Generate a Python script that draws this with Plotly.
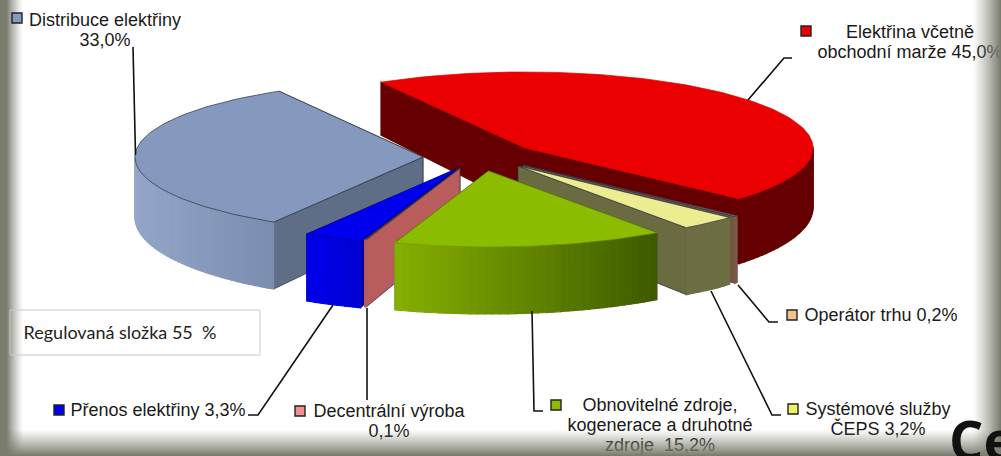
import math
import plotly.graph_objects as go

# --- data ---
categories = ["Elektřina včetně obchodní marže", "Operátor trhu", "Systémové služby ČEPS",
              "Obnovitelné zdroje, kogenerace a druhotné zdroje", "Decentrální výroba",
              "Přenos elektřiny", "Distribuce elektřiny"]
values = [45.0, 0.2, 3.2, 15.2, 0.1, 3.3, 33.0]
label_texts = ["Elektřina včetně<br>obchodní marže 45,0%", "Operátor trhu 0,2%",
               "Systémové služby<br>ČEPS 3,2%",
               "Obnovitelné zdroje,<br>kogenerace a druhotné<br>zdroje  15,2%",
               "Decentrální výroba<br>0,1%", "Přenos elektřiny 3,3%",
               "Distribuce elektřiny<br>33,0%"]
note_text = "Regulovaná složka 55\u00a0\u00a0%"
cut_text = "Ce"

# --- styles and layout (pixel-scale axes) ---
W, H = 1001, 456
RX, RY = 288, 76
START = 120.0
apex = [(525, 148), (523, 165), (518, 166), (488.5, 171), (460, 168), (456, 169), (423, 157)]
top_col = ["#ea0000", "#a08070", "#ecec90", "#8cbc00", "#bf6464", "#0000ee", "#8499bd"]
edge_col = ["#660000", "#75553f", "#6b6b42", "#7d9f00", "#b95c5c", "#0000a8", "#5f6d87"]
wall_a = ["#660000", "#7b5a4a", "#6e6e44", "#86b000", "#b95c5c", "#0000ea", "#93a6c9"]
wall_b = ["#660000", "#7b5a4a", "#6e6e44", "#3e5a00", "#b95c5c", "#0000d4", "#7a8dae"]
outline_col = ["#d80000", "#2a3040", "#2a3040", "#6f9400", "#2a3040", "#00009a", "#2a3040"]
paint_order = [0, 6, 1, 2, 5, 4, 3]
marker_col = ["#ea0000", "#f5c090", "#f0f060", "#8cbc00", "#f09090", "#0000ee", "#8499bd"]
marker_xy = [(806, 31), (792, 315), (793, 409), (556, 405), (300, 411), (59, 410), (17, 18)]
label_xy = [(910, 33), (881, 316), (878, 410), (660, 406), (389, 412), (158, 411), (105, 21)]
LINE_STEP = 20
leaders = [[(792, 58), (784, 58), (748, 100)],
           [(738, 285), (769, 322), (778, 322)],
           [(711, 291), (772, 415), (781, 415)],
           [(532, 311), (534, 411), (543, 411)],
           [(367, 308), (367, 400)],
           [(333, 305), (258, 415), (248, 415)],
           [(133, 47), (135.5, 155)]]


def depth(y):
    return 53 + 14 * min(1, max(0, (y - 83) / 137))


def pt(c, t):
    a = math.radians(t)
    return c[0] + RX * math.cos(a), c[1] - RY * math.sin(a)


def mix(a, b, f):
    ca = [int(a[i:i + 2], 16) for i in (1, 3, 5)]
    cb = [int(b[i:i + 2], 16) for i in (1, 3, 5)]
    return "#%02x%02x%02x" % tuple(round(p + (q - p) * f) for p, q in zip(ca, cb))


fig = go.Figure()


def poly(points, fill, line=None, lw=0.7):
    xs = [p[0] for p in points] + [points[0][0]]
    ys = [p[1] for p in points] + [points[0][1]]
    fig.add_trace(go.Scatter(x=xs, y=ys, mode="lines", fill="toself", fillcolor=fill,
                             line=dict(color=line or fill, width=lw if line else 1.2),
                             hoverinfo="skip", showlegend=False))


def down(p):
    return p[0], p[1] + depth(p[1])


# sweep clockwise from the start angle
total = sum(values)
bounds = []
cur = START
for v in values:
    nxt = cur - v / total * 360
    bounds.append((cur, nxt))
    cur = nxt

for i in paint_order:
    t0, t1 = bounds[i]
    c = apex[i]
    # walls: the one further back is painted first
    for t in sorted((t0, t1), key=lambda a: pt(c, a)[1]):
        p = pt(c, t)
        poly([c, p, down(p), down(c)], edge_col[i], "#2a3040" if i != 0 else None)
    steps = max(2, int(abs(t1 - t0) / 1.5))
    ts = [t0 + (t1 - t0) * k / steps for k in range(steps + 1)]
    xs_vis = [pt(c, t)[0] for t in ts if math.sin(math.radians(t)) <= 0.02]
    for k in range(steps):
        a, b = pt(c, ts[k]), pt(c, ts[k + 1])
        tm = (ts[k] + ts[k + 1]) / 2
        if math.sin(math.radians(tm)) < 0.02:
            f = (pt(c, tm)[0] - min(xs_vis)) / max(1e-6, max(xs_vis) - min(xs_vis))
            poly([a, b, down(b), down(a)], mix(wall_a[i], wall_b[i], f))
    poly([c] + [pt(c, t) for t in ts], top_col[i], outline_col[i])

# leader lines
for seg in leaders:
    fig.add_trace(go.Scatter(x=[p[0] for p in seg], y=[p[1] for p in seg], mode="lines",
                             line=dict(color="#111111", width=1.6),
                             hoverinfo="skip", showlegend=False))

# legend markers
fig.add_trace(go.Scatter(x=[p[0] for p in marker_xy], y=[p[1] for p in marker_xy], mode="markers",
                         marker=dict(symbol="square", size=10, color=marker_col,
                                     line=dict(color="#222222", width=1.4)),
                         hoverinfo="skip", showlegend=False))

# labels, one text per line so the line step can follow the picture
line_x, line_y, line_t = [], [], []
for txt, (lx, ly) in zip(label_texts, label_xy):
    for n, part in enumerate(txt.split("<br>")):
        line_x.append(lx)
        line_y.append(ly + n * LINE_STEP)
        line_t.append(part.replace("  ", "\u00a0\u00a0"))
fig.add_trace(go.Scatter(x=line_x, y=line_y, mode="text", text=line_t,
                         textposition="middle center",
                         textfont=dict(family="Liberation Sans", size=18, color="#1a1a1a"),
                         hoverinfo="skip", showlegend=False))
fig.add_trace(go.Scatter(x=[120], y=[334], mode="text", text=[note_text],
                         textposition="middle center",
                         textfont=dict(family="Lato", size=18, color="#222222"),
                         hoverinfo="skip", showlegend=False))

# frame
FR = "122,125,110"
shapes = []
for k in range(23):
    op = 1 if k < 6 else ((23 - k) / 17) ** 1.3
    shapes.append(dict(type="rect", x0=k, x1=k + 1, y0=0, y1=H, line_width=0,
                       fillcolor=f"rgba({FR},{op:.3f})", layer="below"))
for k in range(28):
    op = ((k + 1) / 28) ** 1.2
    shapes.append(dict(type="rect", x0=W - 28 + k, x1=W - 27 + k, y0=0, y1=H, line_width=0,
                       fillcolor=f"rgba({FR},{op:.3f})", layer="above"))
for k in range(26):
    op = ((k + 1) / 26) ** 1.1
    shapes.append(dict(type="rect", x0=0, x1=W, y0=H - 26 + k, y1=H - 25 + k, line_width=0,
                       fillcolor=f"rgba({FR},{op:.3f})", layer="above"))
shapes.append(dict(type="rect", x0=10, x1=260, y0=310, y1=355, line=dict(color="#c9c9c9", width=1),
                   fillcolor="rgba(255,255,255,0)", layer="below"))

fig.update_layout(
    width=W, height=H, margin=dict(l=0, r=0, t=0, b=0), autosize=False,
    paper_bgcolor="white", plot_bgcolor="white", showlegend=False, shapes=shapes,
    xaxis=dict(range=[0, W], visible=False, fixedrange=True),
    yaxis=dict(range=[H, 0], visible=False, fixedrange=True),
    annotations=[dict(x=947, y=400, xref="x", yref="y", xanchor="left", yanchor="top",
                      text="<b>" + cut_text + "</b>", showarrow=False,
                      font=dict(family="Open Sans", size=54, color="#111111"),
                      align="left")],
)
fig.write_html("out.html", config={"displayModeBar": False},
               post_script="document.body.style.margin='0';document.body.style.overflow='hidden';")
